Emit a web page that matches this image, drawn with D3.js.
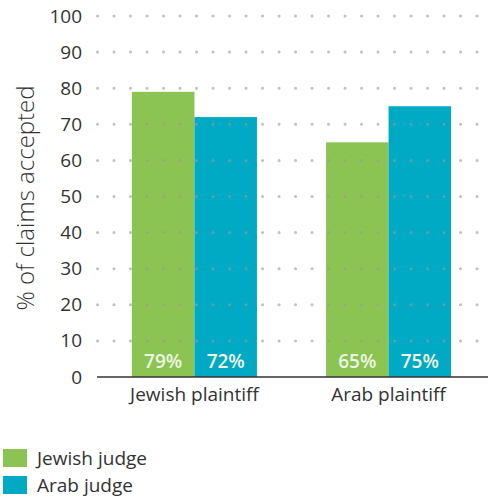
<!DOCTYPE html>
<html>
<head>
<meta charset="utf-8">
<script src="https://cdn.jsdelivr.net/npm/d3@7"></script>
<style>
  body { margin: 0; background: #fff; }
  svg text { font-family: "Open Sans", sans-serif; fill: #333; }
</style>
</head>
<body>
<svg id="chart" width="488" height="498"></svg>
<script>
const plaintiffs = ["Jewish plaintiff", "Arab plaintiff"];
const judges = ["Jewish judge", "Arab judge"];
const jewishJudge = [79, 65];
const arabJudge = [72, 75];
const yTicks = [0, 10, 20, 30, 40, 50, 60, 70, 80, 90, 100];
const colors = ["#8cc454", "#01aac4"];

(function() {
  let svg = d3.select("#chart");

  let x = d3.scaleBand()
      .domain(plaintiffs)
      .range([97, 486])
      .paddingInner(0.356)
      .paddingOuter(0.18);

  let x1 = d3.scaleBand()
      .domain(judges)
      .range([0, x.bandwidth()]);

  let y = d3.scaleLinear()
      .domain([0, 100])
      .range([377, 16]);

  // bars
  let series = [jewishJudge, arabJudge];
  let g = svg.append("g");
  plaintiffs.forEach(function(p, i) {
    judges.forEach(function(j, k) {
      let v = series[k][i];
      g.append("rect")
          .attr("x", x(p) + x1(j))
          .attr("y", y(v))
          .attr("width", x1.bandwidth())
          .attr("height", y(0) - y(v))
          .attr("fill", colors[k]);
      g.append("text")
          .attr("x", x(p) + x1(j) + x1.bandwidth() / 2)
          .attr("y", y(0) - 9)
          .attr("text-anchor", "middle")
          .style("font-size", "19px")
          .style("font-weight", "600")
          .style("fill", "#eef6e4")
          .text(v + "%");
    });
  });

  // dotted gridlines, drawn on top faintly
  let grid = svg.append("g");
  yTicks.filter(d => d > 0).forEach(function(t) {
    grid.append("line")
        .attr("x1", 97.5).attr("x2", 488)
        .attr("y1", y(t)).attr("y2", y(t))
        .attr("stroke", "#999")
        .attr("stroke-opacity", 0.6)
        .attr("stroke-width", 3)
        .attr("stroke-linecap", "round")
        .attr("stroke-dasharray", "0.1 16.4");
  });

  // y tick labels
  let yAxis = svg.append("g")
      .attr("transform", "translate(82,0)")
      .call(d3.axisLeft(y).tickValues(yTicks).tickSize(0).tickPadding(0));
  yAxis.select(".domain").remove();
  yAxis.selectAll("text")
      .style("font-size", "19px")
      .style("font-family", "'Open Sans', sans-serif")
      .style("fill", "#333");

  // x axis
  let xAxis = svg.append("g")
      .attr("transform", "translate(0,377)")
      .call(d3.axisBottom(x).tickSize(0).tickPadding(11));
  xAxis.select(".domain").attr("d", "M97,0H488").attr("stroke", "#333").attr("stroke-width", 1.5);
  xAxis.selectAll("text")
      .style("font-size", "19px")
      .style("font-family", "'Open Sans', sans-serif")
      .style("fill", "#333");

  // y title
  svg.append("text")
      .attr("transform", "translate(34,198) rotate(-90)")
      .attr("text-anchor", "middle")
      .style("font-size", "24px")
      .style("font-weight", "300")
      .style("fill", "#333")
      .text("% of claims accepted");

  // legend
  let legend = svg.append("g");
  judges.forEach(function(j, k) {
    legend.append("rect")
        .attr("x", 3).attr("y", 449 + k * 27)
        .attr("width", 24).attr("height", 18)
        .attr("fill", colors[k]);
    legend.append("text")
        .attr("x", 37).attr("y", 465 + k * 27)
        .style("font-size", "19px")
        .text(j);
  });
})();
</script>
</body>
</html>
